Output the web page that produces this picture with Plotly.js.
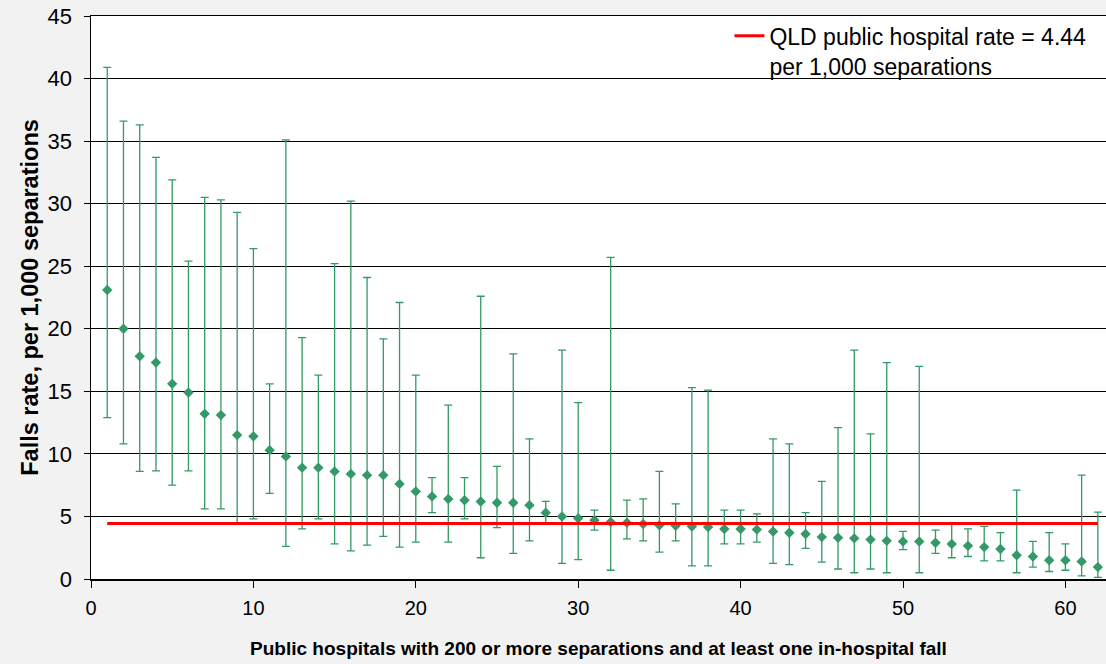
<!DOCTYPE html>
<html>
<head>
<meta charset="utf-8">
<script src="https://cdn.plot.ly/plotly-3.0.1.min.js"></script>
<style>html,body{margin:0;padding:0;background:#f2f2f2;}#chart{width:1106px;height:664px;}</style>
</head>
<body>
<div id="chart"></div>
<script>
// Hospital index (x), falls rate and 95% confidence limits (per 1,000 separations)
const hospitals = [];
for (let i = 1; i <= 62; i++) hospitals.push(i);

const rates = [23.1, 20.0, 17.8, 17.3, 15.6, 14.9, 13.2, 13.1, 11.5, 11.4,
               10.3, 9.8, 8.9, 8.9, 8.6, 8.4, 8.3, 8.3, 7.6, 7.0,
               6.6, 6.4, 6.3, 6.2, 6.1, 6.1, 5.9, 5.3, 5.0, 4.85,
               4.7, 4.55, 4.5, 4.4, 4.3, 4.25, 4.2, 4.15, 4.0, 4.0,
               3.95, 3.8, 3.7, 3.6, 3.35, 3.3, 3.25, 3.15, 3.05, 3.0,
               3.0, 2.9, 2.8, 2.65, 2.55, 2.4, 1.9, 1.8, 1.5, 1.5,
               1.4, 0.95];

const upper = [40.9, 36.6, 36.3, 33.7, 31.9, 25.4, 30.5, 30.3, 29.3, 26.4,
               15.6, 35.1, 19.3, 16.3, 25.2, 30.2, 24.1, 19.2, 22.1, 16.3,
               8.1, 13.9, 8.1, 22.6, 9.0, 18.0, 11.2, 6.2, 18.3, 14.1,
               5.5, 25.7, 6.3, 6.4, 8.6, 6.0, 15.3, 15.1, 5.5, 5.5,
               5.2, 11.2, 10.8, 5.3, 7.8, 12.1, 18.3, 11.6, 17.3, 3.8,
               17.0, 3.9, 4.5, 4.0, 4.2, 3.7, 7.1, 3.0, 3.7, 2.8,
               8.3, 5.35];

const lower = [12.9, 10.8, 8.6, 8.65, 7.5, 8.65, 5.6, 5.6, 4.4, 4.8,
               6.85, 2.6, 4.0, 4.8, 2.8, 2.25, 2.7, 3.4, 2.55, 2.95,
               5.3, 2.95, 4.8, 1.7, 4.1, 2.05, 3.05, 4.5, 1.25, 1.55,
               3.9, 0.7, 3.2, 3.05, 2.15, 3.05, 1.05, 1.05, 2.8, 2.8,
               2.95, 1.25, 1.15, 2.45, 1.35, 0.8, 0.5, 0.8, 0.5, 2.35,
               0.5, 2.05, 1.7, 1.8, 1.45, 1.45, 0.5, 0.95, 0.6, 0.7,
               0.25, 0.13];

const qldRate = 4.44;
const qldLineX = [1, 62];
const qldLabel = 'QLD public hospital rate = 4.44<br>per 1,000 separations';

const xTicks = [0, 10, 20, 30, 40, 50, 60];
const yTicks = [0, 5, 10, 15, 20, 25, 30, 35, 40, 45];

const errPlus = upper.map((u, i) => u - rates[i]);
const errMinus = lower.map((l, i) => rates[i] - l);

const green = '#339966';

const traces = [
  {
    type: 'scatter',
    mode: 'markers',
    x: hospitals,
    y: rates,
    showlegend: false,
    marker: {symbol: 'diamond', size: 8, color: green},
    error_y: {
      type: 'data', symmetric: false,
      array: errPlus, arrayminus: errMinus,
      color: green, thickness: 1.3, width: 4
    },
    hoverinfo: 'x+y'
  },
  {
    type: 'scatter',
    mode: 'lines',
    x: qldLineX,
    y: [qldRate, qldRate],
    name: qldLabel,
    line: {color: '#ff0000', width: 3}
  }
];

const layout = {
  width: 1106, height: 664,
  paper_bgcolor: '#f2f2f2',
  plot_bgcolor: '#ffffff',
  margin: {l: 91, r: 0, t: 16, b: 85},
  font: {family: '"Liberation Sans", Arial, sans-serif', color: '#000'},
  showlegend: true,
  legend: {
    x: 0.629, y: 1.003, xanchor: 'left', yanchor: 'top',
    bgcolor: 'rgba(0,0,0,0)', borderwidth: 0,
    font: {size: 23, color: '#000'},
    valign: 'top', itemwidth: 30
  },
  xaxis: {
    range: [0, 62.5],
    tickvals: xTicks,
    ticktext: xTicks.map(String),
    ticks: 'outside', ticklen: 7, tickwidth: 1, tickcolor: '#000',
    showline: true, linecolor: '#000', linewidth: 1.5, mirror: true,
    showgrid: false, zeroline: false,
    tickfont: {size: 20, color: '#000'},
    ticklabelstandoff: 3,
    title: {
      text: '<b>Public hospitals with 200 or more separations and at least one in-hospital fall</b>',
      font: {size: 19, color: '#000'}, standoff: 24
    }
  },
  yaxis: {
    range: [0, 45],
    tickvals: yTicks,
    ticktext: yTicks.map(String),
    ticks: 'outside', ticklen: 6, tickwidth: 1, tickcolor: '#000',
    showline: true, linecolor: '#000', linewidth: 1.5,
    showgrid: true, gridcolor: '#000', gridwidth: 1,
    zeroline: false,
    tickfont: {size: 22, color: '#000'},
    ticklabelstandoff: 7,
    title: {
      text: '<b>Falls rate, per 1,000 separations</b>',
      font: {size: 23.5, color: '#000'}, standoff: 2
    }
  }
};

Plotly.newPlot('chart', traces, layout, {displayModeBar: false, staticPlot: true});
</script>
</body>
</html>
